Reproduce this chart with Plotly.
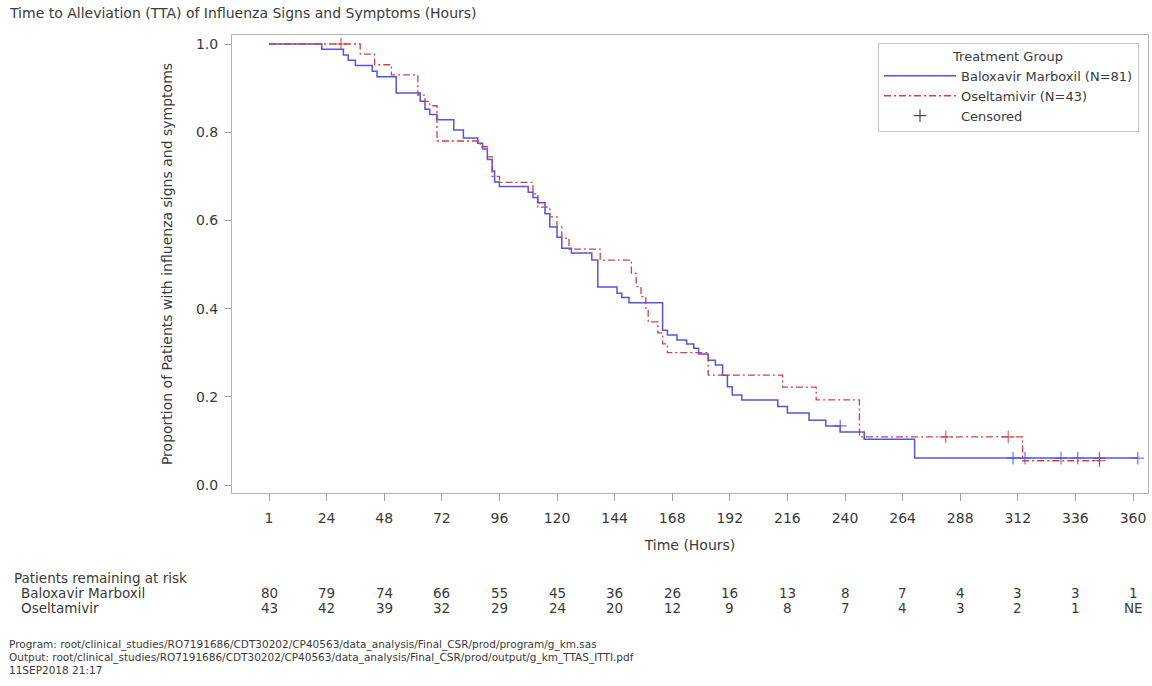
import plotly.graph_objects as go

# ---------------- data ----------------
bal_times = [0, 22, 31, 33, 36, 43, 45, 53, 63, 65, 67, 70, 77, 81, 87, 89, 91, 93, 94, 96,
             108, 110, 112, 115, 117, 120, 122, 126, 134.5, 137, 145, 147, 150, 164, 166, 170,
             174, 177, 179, 183, 186, 189, 191, 193, 197, 212, 216, 225, 232, 238, 248, 269]
bal_surv = [1.0, 0.988, 0.975, 0.963, 0.951, 0.938, 0.926, 0.889, 0.870, 0.852, 0.840, 0.828,
            0.805, 0.787, 0.775, 0.762, 0.738, 0.712, 0.687, 0.677,
            0.664, 0.652, 0.640, 0.615, 0.585, 0.562, 0.537, 0.526, 0.510, 0.449, 0.435, 0.425,
            0.413, 0.351, 0.340, 0.329, 0.320, 0.310, 0.297, 0.283, 0.272, 0.249, 0.223, 0.204,
            0.193, 0.178, 0.163, 0.147, 0.134, 0.120, 0.104, 0.061]
bal_end = 362
bal_cens_t = [238, 310, 315, 330, 337, 346, 362]
bal_cens_s = [0.134, 0.061, 0.061, 0.061, 0.061, 0.061, 0.061]

ose_times = [0, 38, 44, 51, 62, 65, 67, 70, 88, 91, 93, 96, 110, 112, 117, 120, 122, 125,
             138, 151, 153, 155, 157, 158, 162, 164, 166, 183, 214, 228, 246, 314]
ose_surv = [1.0, 0.977, 0.953, 0.930, 0.884, 0.870, 0.860, 0.780, 0.767, 0.744, 0.700, 0.686,
            0.660, 0.630, 0.608, 0.585, 0.560, 0.535, 0.510, 0.480, 0.450, 0.427, 0.400, 0.370,
            0.345, 0.320, 0.300, 0.249, 0.222, 0.193, 0.109, 0.055]
ose_end = 346
ose_cens_t = [30, 282, 308, 346]
ose_cens_s = [1.0, 0.109, 0.109, 0.055]

tick_vals = [0, 24, 48, 72, 96, 120, 144, 168, 192, 216, 240, 264, 288, 312, 336, 360]
tick_text = ["1", "24", "48", "72", "96", "120", "144", "168", "192", "216", "240",
             "264", "288", "312", "336", "360"]
risk_bal = ["80", "79", "74", "66", "55", "45", "36", "26", "16", "13", "8", "7", "4", "3", "3", "1"]
risk_ose = ["43", "42", "39", "32", "29", "24", "20", "12", "9", "8", "7", "4", "3", "2", "1", "NE"]

BLUE = "rgb(84,84,226)"
RED = "rgb(214,62,62)"
TXT = "#3a3a3a"
FONT = "DejaVu Sans, Verdana, sans-serif"

# ---------------- layout geometry (pixels) ----------------
W, H = 1152, 686
L, R, T, B = 232, 1148, 35, 493
X0, PPH = 269, 2.4          # pixel of hour 0, pixels per hour


def py(p):
    return (B - p) / (B - T)


def px(p):
    return (p - L) / (R - L)


fig = go.Figure()

fig.add_trace(go.Scatter(
    x=bal_times + [bal_end], y=bal_surv + [bal_surv[-1]], mode="lines",
    line=dict(color=BLUE, width=1.5, shape="hv"),
    name="Baloxavir Marboxil (N=81)"))
fig.add_trace(go.Scatter(
    x=ose_times + [ose_end], y=ose_surv + [ose_surv[-1]], mode="lines",
    line=dict(color=RED, width=1.3, shape="hv", dash="7px,3px,2px,3px"),
    name="Oseltamivir (N=43)"))
fig.add_trace(go.Scatter(
    x=bal_cens_t, y=bal_cens_s, mode="markers", showlegend=False,
    marker=dict(symbol="cross-thin", size=9, line=dict(color=BLUE, width=1))))
fig.add_trace(go.Scatter(
    x=ose_cens_t, y=ose_cens_s, mode="markers", showlegend=False,
    marker=dict(symbol="cross-thin", size=9, line=dict(color=RED, width=1))))
fig.add_trace(go.Scatter(
    x=[None], y=[None], mode="markers", name="Censored",
    marker=dict(symbol="cross-thin", size=9, color="#222", line=dict(color="#222", width=1))))

annotations = []
annotations.append(dict(text="Time to Alleviation (TTA) of Influenza Signs and Symptoms (Hours)",
                        xref="paper", yref="paper", x=px(7), y=py(13), xanchor="left",
                        yanchor="middle", showarrow=False, font=dict(size=14, color=TXT)))
annotations.append(dict(text="Patients remaining at risk", xref="paper", yref="paper",
                        x=px(12), y=py(578), xanchor="left", yanchor="middle",
                        showarrow=False, font=dict(size=13.5, color=TXT)))
annotations.append(dict(text="Baloxavir Marboxil", xref="paper", yref="paper",
                        x=px(19), y=py(593), xanchor="left", yanchor="middle",
                        showarrow=False, font=dict(size=13.5, color=TXT)))
annotations.append(dict(text="Oseltamivir", xref="paper", yref="paper",
                        x=px(19), y=py(608), xanchor="left", yanchor="middle",
                        showarrow=False, font=dict(size=13.5, color=TXT)))
for tv, a, b in zip(tick_vals, risk_bal, risk_ose):
    annotations.append(dict(text=a, xref="x", yref="paper", x=tv, y=py(593),
                            xanchor="center", yanchor="middle", showarrow=False,
                            font=dict(size=13.5, color=TXT)))
    annotations.append(dict(text=b, xref="x", yref="paper", x=tv, y=py(608),
                            xanchor="center", yanchor="middle", showarrow=False,
                            font=dict(size=13.5, color=TXT)))
footer = [
    "Program: root/clinical_studies/RO7191686/CDT30202/CP40563/data_analysis/Final_CSR/prod/program/g_km.sas",
    "Output: root/clinical_studies/RO7191686/CDT30202/CP40563/data_analysis/Final_CSR/prod/output/g_km_TTAS_ITTI.pdf",
    "11SEP2018 21:17",
]
for i, line in enumerate(footer):
    annotations.append(dict(text=line, xref="paper", yref="paper", x=px(7), y=py(644 + 13 * i),
                            xanchor="left", yanchor="middle", showarrow=False,
                            font=dict(size=10.5, color=TXT)))

fig.update_layout(
    width=W, height=H,
    margin=dict(l=L, r=W - R, t=T, b=H - B, pad=0),
    paper_bgcolor="white", plot_bgcolor="white",
    font=dict(family=FONT, color=TXT, size=14),
    showlegend=True,
    legend=dict(
        x=px(1139), y=py(43), xanchor="right", yanchor="top",
        bgcolor="white", bordercolor="#c8c8c8", borderwidth=1,
        title=dict(text="Treatment Group", side="top center", font=dict(size=13, color=TXT)),
        font=dict(size=13, color=TXT), itemwidth=72, tracegroupgap=0,
    ),
    annotations=annotations,
    xaxis=dict(
        range=[(L - X0) / PPH, (R - X0) / PPH],
        tickmode="array", tickvals=tick_vals, ticktext=tick_text,
        ticks="outside", ticklen=7, tickcolor="#a0a0a0", tickfont=dict(size=14, color=TXT),
        ticklabelstandoff=5,
        showline=True, linecolor="#b0b0b0", linewidth=1, mirror=True,
        showgrid=False, zeroline=False,
        title=dict(text="Time (Hours)", font=dict(size=14, color=TXT), standoff=15),
    ),
    yaxis=dict(
        range=[-8 / 441, 1 + 9 / 441],
        tickmode="array", tickvals=[0, 0.2, 0.4, 0.6, 0.8, 1.0],
        ticktext=["0.0", "0.2", "0.4", "0.6", "0.8", "1.0"],
        ticks="outside", ticklen=6, tickcolor="#a0a0a0", tickfont=dict(size=14, color=TXT),
        ticklabelstandoff=4,
        showline=True, linecolor="#b0b0b0", linewidth=1, mirror=True,
        showgrid=False, zeroline=False,
        title=dict(text="Proportion of Patients with influenza signs and symptoms",
                   font=dict(size=14, color=TXT), standoff=20),
    ),
)

fig.write_html("out.html")
